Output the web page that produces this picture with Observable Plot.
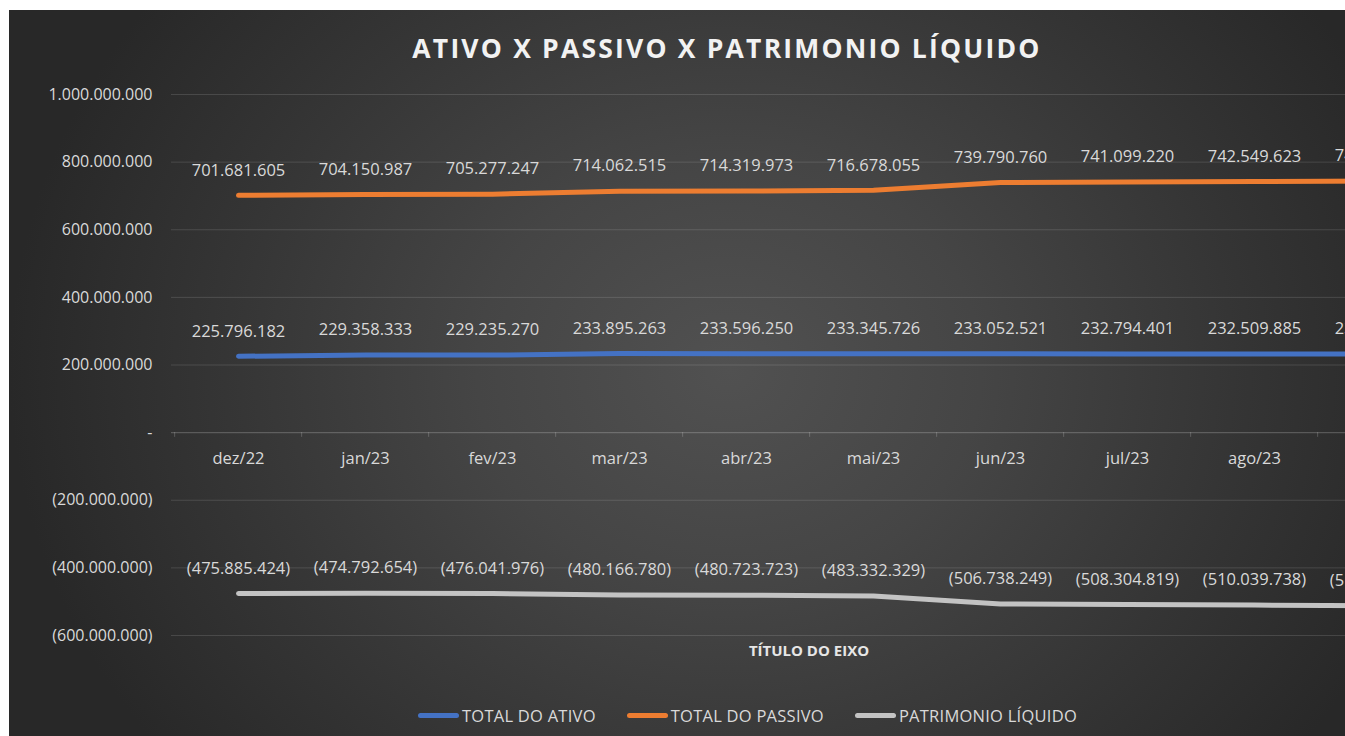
<!DOCTYPE html>
<html>
<head>
<meta charset="utf-8">
<script src="https://cdn.jsdelivr.net/npm/d3@7"></script>
<script src="https://cdn.jsdelivr.net/npm/@observablehq/plot@0.6"></script>
<style>
  html, body { margin: 0; padding: 0; background: #ffffff; width: 1345px; height: 736px; overflow: hidden; }
  #chart {
    position: absolute; left: 9px; top: 10px; width: 1460px; height: 726px;
    background: radial-gradient(ellipse 720px 620px at 720px 360px, #515151 0%, #454545 35%, #353535 70%, #282828 100%);
    font-family: "Open Sans", sans-serif; overflow: hidden;
  }
  #title {
    position: absolute; left: 0; width: 1436px; top: 20px; text-align: center;
    color: #f2f2f2; font-weight: 700; font-size: 26.5px; letter-spacing: 2.2px;
  }
  #plot { position: absolute; left: 0; top: 0; }
  #axistitle {
    position: absolute; left: 0; width: 1600px; top: 630px; text-align: center;
    color: #e6e6e6; font-weight: 700; font-size: 15px;
  }
  #legend {
    position: absolute; left: 409px; top: 694px; display: flex; gap: 31px;
    color: #d9d9d9; font-size: 16.5px; align-items: center; letter-spacing: 0.25px;
  }
  .li { display: flex; align-items: center; }
  .sw { width: 41px; height: 5px; border-radius: 3px; margin-right: 3px; }
</style>
</head>
<body>
<div id="chart">
  <div id="title">ATIVO X PASSIVO X PATRIMONIO LÍQUIDO</div>
  <div id="plot"></div>
  <div id="axistitle">TÍTULO DO EIXO</div>
  <div id="legend"></div>
</div>
<script>
const months = ["dez/22","jan/23","fev/23","mar/23","abr/23","mai/23","jun/23","jul/23","ago/23","set/23"];
const totalAtivo = [225796182, 229358333, 229235270, 233895263, 233596250, 233345726, 233052521, 232794401, 232509885, 232200000];
const totalPassivo = [701681605, 704150987, 705277247, 714062515, 714319973, 716678055, 739790760, 741099220, 742549623, 744100000];
const patrimonio = [-475885424, -474792654, -476041976, -480166780, -480723723, -483332329, -506738249, -508304819, -510039738, -511900000];
const yTicks = [1000000000, 800000000, 600000000, 400000000, 200000000, 0, -200000000, -400000000, -600000000];
const seriesNames = ["TOTAL DO ATIVO", "TOTAL DO PASSIVO", "PATRIMONIO LÍQUIDO"];
const seriesColors = ["#4472c4", "#ed7d31", "#c3c3c3"];

const seriesValues = [totalAtivo, totalPassivo, patrimonio];
const data = [];
seriesValues.forEach((vals, s) => vals.forEach((v, i) => data.push({month: months[i], value: v, series: seriesNames[s]})));

const num = v => d3.format(",")(Math.abs(v)).replace(/,/g, ".");
const fmt = v => v === 0 ? "-" : (v < 0 ? "(" + num(v) + ")" : num(v));

const W = 1460, mL = 162, mR = 21;
const step = (W - mL - mR) / months.length;

const plot = Plot.plot({
  width: W,
  height: 726,
  marginLeft: mL,
  marginRight: mR,
  marginTop: 84,
  marginBottom: 101,
  style: {background: "transparent", fontFamily: "Open Sans, sans-serif", overflow: "visible"},
  x: {type: "point", domain: months, padding: 0.5, axis: null},
  y: {domain: [-600000000, 1000000000], axis: null},
  color: {domain: seriesNames, range: seriesColors},
  marks: [
    Plot.ruleY(yTicks.filter(d => d !== 0), {stroke: "#ffffff", strokeOpacity: 0.13, strokeWidth: 1}),
    Plot.ruleY([0], {stroke: "#ffffff", strokeOpacity: 0.2, strokeWidth: 1.2}),
    Plot.ruleX(months, {x: d => d, dx: -step / 2, y1: 0, y2: -14000000, stroke: "#ffffff", strokeOpacity: 0.2}),
    Plot.text(yTicks, {y: d => d, frameAnchor: "left", dx: -19, text: d => fmt(d), textAnchor: "end", fill: "#d9d9d9", fontSize: 16}),
    Plot.text(months, {x: d => d, y: 0, dy: 26, text: d => d, fill: "#d9d9d9", fontSize: 16.5}),
    Plot.line(data, {x: "month", y: "value", z: "series", stroke: "series", strokeWidth: 5, strokeLinecap: "round", strokeLinejoin: "round"}),
    Plot.text(data, {x: "month", y: "value", dy: -25, text: d => fmt(d.value), fill: "#d9d9d9", fontSize: 16.5})
  ]
});
document.getElementById("plot").appendChild(plot);

const legend = document.getElementById("legend");
seriesNames.forEach((n, i) => {
  const el = document.createElement("div");
  el.className = "li";
  el.innerHTML = `<span class="sw" style="background:${seriesColors[i]}"></span><span>${n}</span>`;
  legend.appendChild(el);
});
</script>
</body>
</html>
